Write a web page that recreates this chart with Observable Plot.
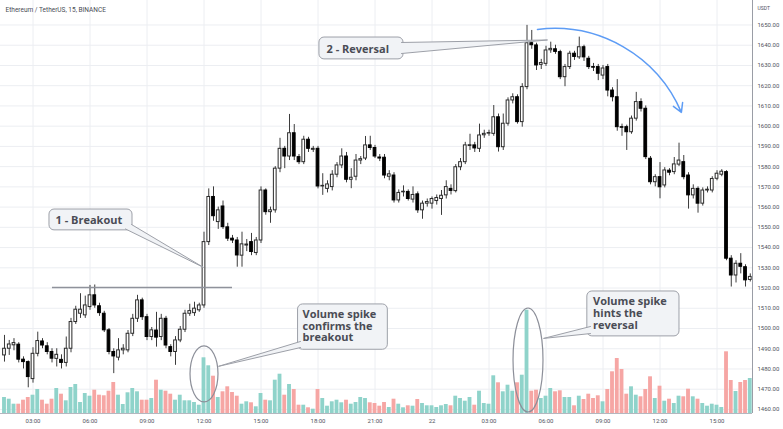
<!DOCTYPE html>
<html>
<head>
<meta charset="utf-8">
<script src="https://cdn.jsdelivr.net/npm/d3@7"></script>
<script src="https://cdn.jsdelivr.net/npm/@observablehq/plot@0.6"></script>
<style>
  html, body { margin: 0; padding: 0; background: #fff; }
  #chart { position: relative; width: 783px; height: 429px; overflow: hidden; background: #fff; }
  #chart > svg { position: absolute; left: 0; top: 0; }
</style>
</head>
<body>
<div id="chart"></div>
<script>
// ---------- DATA (15-minute candles, ETH/USDT) ----------
const chartTitle = "Ethereum / TetherUS, 15, BINANCE";
const unitLabel = "USDT";
const startTime = "2021-09-21T01:30:00Z";

const opens = [
1486.7,1490.0,1491.7,1492.0,1484.6,1483.4,1475.0,1487.5,1493.6,1491.2,
1488.4,1485.0,1484.5,1483.0,1490.0,1503.2,1507.3,1506.5,1510.6,1516.4,
1511.0,1507.3,1499.1,1488.4,1485.6,1489.2,1489.2,1497.4,1504.8,1513.9,
1505.6,1495.8,1499.0,1495.8,1504.8,1490.8,1488.4,1494.1,1499.4,1507.3,
1507.6,1509.0,1511.4,1542.7,1565.0,1552.6,1560.3,1550.0,1544.4,1543.5,
1536.0,1541.0,1542.7,1537.3,1543.5,1568.2,1557.5,1558.4,1579.0,1588.8,
1585.0,1596.5,1584.7,1582.2,1593.3,1588.3,1588.8,1570.2,1569.0,1569.9,
1576.0,1580.6,1585.0,1573.5,1575.0,1583.0,1584.0,1590.5,1589.2,1584.5,
1584.4,1575.0,1575.6,1563.3,1567.3,1567.5,1563.7,1566.3,1558.4,1561.7,
1561.7,1563.0,1564.0,1565.8,1569.0,1567.9,1579.7,1582.2,1590.2,1590.5,
1588.8,1595.5,1596.3,1596.2,1604.4,1589.6,1601.2,1612.7,1614.3,1602.0,
1619.3,1641.0,1639.9,1630.3,1630.8,1637.5,1638.0,1636.6,1624.2,1629.2,
1635.8,1634.0,1639.0,1633.3,1629.2,1629.2,1625.0,1629.2,1617.6,1614.3,
1599.5,1599.5,1597.0,1603.7,1611.9,1608.6,1583.9,1572.3,1574.8,1570.7,
1578.0,1577.3,1581.0,1582.2,1575.6,1565.8,1569.0,1561.7,1568.2,1568.2,
1574.0,1576.0,1577.3,1534.5,1526.2,1532.0,1530.3,1524.0];

const highs = [
1496.6,1494.1,1495.0,1493.0,1486.0,1484.0,1490.5,1498.2,1495.0,1493.0,
1490.0,1490.0,1487.0,1495.8,1505.0,1511.0,1517.2,1516.0,1521.3,1521.5,
1512.5,1508.5,1500.0,1490.0,1495.0,1492.0,1499.0,1507.0,1516.4,1515.0,
1507.0,1500.5,1508.0,1507.0,1506.0,1492.0,1496.0,1501.0,1509.0,1512.0,
1513.0,1512.5,1547.6,1569.0,1570.0,1560.0,1563.0,1552.0,1546.0,1545.0,
1547.6,1544.0,1547.0,1545.0,1570.0,1569.0,1560.0,1580.0,1594.0,1590.0,
1605.8,1600.8,1586.0,1595.0,1594.5,1590.0,1590.0,1576.5,1573.0,1578.0,
1582.0,1588.8,1587.0,1579.0,1586.0,1585.0,1594.9,1595.0,1590.5,1586.0,
1586.0,1578.0,1577.0,1568.5,1570.5,1568.5,1570.0,1567.5,1563.0,1564.0,
1565.0,1566.0,1568.2,1573.0,1571.0,1581.0,1584.0,1592.0,1596.0,1592.0,
1601.0,1598.0,1598.0,1610.2,1606.0,1606.0,1614.0,1616.0,1615.5,1621.0,
1649.8,1647.3,1641.0,1633.0,1639.5,1641.5,1640.0,1637.5,1630.5,1637.0,
1637.0,1644.0,1640.0,1634.5,1631.0,1630.5,1630.0,1630.5,1619.0,1623.0,
1601.0,1600.5,1605.0,1616.7,1613.5,1610.0,1585.0,1576.0,1582.0,1579.5,
1579.0,1584.5,1591.6,1585.5,1577.0,1571.0,1570.0,1569.5,1570.0,1575.0,
1578.0,1578.5,1578.0,1536.0,1533.5,1537.0,1531.5,1527.0];

const lows = [
1483.4,1486.7,1489.0,1483.0,1480.0,1470.7,1473.0,1486.0,1490.0,1487.0,
1483.0,1481.0,1480.0,1481.0,1488.0,1502.0,1505.0,1505.0,1509.0,1510.0,
1506.0,1498.0,1487.0,1477.7,1484.0,1487.0,1488.0,1496.0,1503.0,1504.0,
1494.0,1494.0,1490.8,1494.0,1490.0,1486.0,1481.8,1493.0,1498.0,1506.0,
1506.0,1508.0,1510.0,1541.0,1553.0,1549.0,1549.0,1543.0,1542.0,1530.3,
1530.3,1538.0,1536.0,1536.0,1542.0,1556.0,1552.0,1557.0,1577.0,1579.0,
1583.0,1583.0,1581.0,1581.0,1587.0,1587.0,1569.0,1565.8,1567.0,1568.0,
1574.5,1579.0,1572.0,1569.1,1573.0,1581.0,1583.0,1588.0,1584.0,1582.5,
1574.0,1573.0,1562.0,1562.0,1565.0,1563.0,1562.0,1556.9,1554.0,1560.0,
1559.0,1561.0,1555.9,1564.0,1566.0,1567.0,1578.0,1581.0,1588.0,1587.0,
1587.0,1594.0,1595.0,1595.0,1587.2,1588.0,1600.0,1611.0,1601.0,1599.5,
1618.0,1638.0,1627.5,1628.0,1629.5,1636.0,1635.5,1623.0,1619.5,1628.0,
1632.5,1633.0,1632.0,1628.0,1627.0,1622.5,1623.0,1614.5,1612.0,1597.5,
1595.0,1588.0,1596.0,1602.5,1607.0,1583.5,1571.0,1570.0,1564.1,1569.5,
1575.5,1576.0,1580.0,1573.5,1559.0,1564.0,1557.0,1560.5,1567.0,1567.0,
1573.0,1575.0,1533.5,1520.5,1522.5,1527.0,1520.5,1523.0];

const closes = [
1490.0,1492.1,1492.8,1484.6,1483.4,1476.0,1487.5,1493.8,1491.6,1488.4,
1485.1,1487.0,1483.0,1490.0,1503.2,1509.3,1509.3,1511.4,1516.4,1511.4,
1507.6,1499.1,1488.4,1486.2,1489.2,1490.0,1497.4,1504.8,1513.9,1505.6,
1495.8,1499.1,1495.5,1504.8,1491.6,1488.4,1494.1,1499.4,1507.3,1508.6,
1509.8,1511.4,1542.7,1565.0,1555.5,1558.4,1550.1,1544.4,1543.5,1536.1,
1541.6,1541.5,1537.8,1543.5,1568.2,1557.5,1558.4,1579.0,1588.8,1585.0,
1596.5,1585.0,1582.2,1593.3,1588.8,1588.8,1570.2,1570.5,1571.2,1576.0,
1580.6,1585.0,1573.5,1574.5,1583.0,1583.7,1590.5,1589.2,1585.0,1584.0,
1575.6,1576.2,1563.3,1567.0,1567.6,1564.0,1566.0,1558.4,1561.7,1562.5,
1564.0,1564.5,1565.6,1569.9,1568.0,1579.7,1582.2,1590.5,1590.6,1589.0,
1595.4,1596.2,1596.6,1604.4,1589.6,1601.2,1612.7,1614.3,1602.0,1619.3,
1641.0,1640.0,1630.0,1631.2,1637.4,1638.2,1636.7,1624.2,1629.2,1635.8,
1634.2,1639.0,1634.0,1629.2,1628.9,1625.9,1628.5,1617.6,1614.3,1599.5,
1599.2,1597.0,1603.7,1611.9,1608.6,1584.7,1572.3,1574.8,1569.8,1578.1,
1577.0,1581.1,1583.0,1574.8,1565.8,1569.0,1561.7,1568.2,1568.6,1573.9,
1576.5,1577.5,1534.5,1526.2,1532.0,1530.5,1523.8,1525.5];

// relative traded volume per candle
const volumes = [
16,14.3,9.3,9.3,13.3,16,18.3,24,13.3,9.3,
14.3,25,19.3,12.7,26,29,11,20,17.3,23.3,
18.3,17.7,22.3,31,18.3,9,20.7,25,21.7,13.3,
13.3,15,33.3,23.3,22.3,19.3,13.3,18.3,12.7,12.7,
11,8.3,55.7,47.7,37.3,16,21.7,26.7,21,17.3,
9.3,11.7,10.7,6.7,20,13.3,12.7,33.3,39.3,18.3,
29,24,8.3,8.3,5.7,4.3,24,15,7.3,11.7,
13.3,10.7,13.3,9.3,11,16,15,10.7,10,7.3,
11,6,14.3,9.3,5.7,7.7,7.3,14,10,7.7,
7.7,6,7.7,9,7.7,17.3,15,12.3,16,8.3,
22.3,10,9.3,37.7,30.7,21.7,28.3,22.3,30.7,38.3,
103.3,22.3,23.3,15,17.3,25,21.7,22.7,16,16,
7.7,17.3,14,19.3,15,17.7,11.7,24,41.7,55,
44,19.3,26.7,18.3,16.7,24,36.7,15,27.3,12.3,
14.3,10,17.3,16.7,24.3,16.7,14.3,10,7.3,9.3,
8.3,6,61.7,33,22,31,33,35];

const xTickTimes = ["2021-09-21T03:00Z","2021-09-21T06:00Z","2021-09-21T09:00Z","2021-09-21T12:00Z",
  "2021-09-21T15:00Z","2021-09-21T18:00Z","2021-09-21T21:00Z","2021-09-22T00:00Z",
  "2021-09-22T03:00Z","2021-09-22T06:00Z","2021-09-22T09:00Z","2021-09-22T12:00Z","2021-09-22T15:00Z"];
const xTickLabels = ["03:00","06:00","09:00","12:00","15:00","18:00","21:00","22","03:00","06:00","09:00","12:00","15:00"];
const yTicks = [1460,1470,1480,1490,1500,1510,1520,1530,1540,1550,1560,1570,1580,1590,1600,1610,1620,1630,1640,1650];

// annotations (candle index, price)
const breakoutLevel = [{i1: 10.1, i2: 48, price: 1520.3}];
const calloutBoxes = [
  {id: "breakout", i1: 9.47, i2: 26.95, p1: 1558.8, p2: 1548.5},
  {id: "reversal", i1: 66.3, i2: 84.0, p1: 1643.8, p2: 1633.0},
  {id: "confirms", i1: 61.8, i2: 80.7, p1: 1511.9, p2: 1489.5},
  {id: "hints", i1: 122.7, i2: 142.1, p1: 1518.3, p2: 1496.1}
];
const calloutTails = [
  {id: "breakout", i: 25.47, price: 1549.2}, {id: "breakout", i: 41.89, price: 1530.2}, {id: "breakout", i: 26.74, price: 1551.4},
  {id: "reversal", i: 83.58, price: 1641.35}, {id: "reversal", i: 114.32, price: 1642.6}, {id: "reversal", i: 83.58, price: 1635.9},
  {id: "confirms", i: 62.32, price: 1493.6}, {id: "confirms", i: 45.05, price: 1481.3}, {id: "confirms", i: 62.32, price: 1490.6},
  {id: "hints", i: 123.37, price: 1501.0}, {id: "hints", i: 113.47, price: 1495.1}, {id: "hints", i: 123.37, price: 1497.5}
];
const calloutTexts = [
  {text: "1 - Breakout", i: 10.74, price: 1553.7},
  {text: "2 - Reversal", i: 67.79, price: 1638.2},
  {text: "Volume spike\nconfirms the\nbreakout", i: 62.74, price: 1501.3},
  {text: "Volume spike\nhints the\nreversal", i: 123.9, price: 1507.5}
];
const ellipses = [
  {i1: 39.16, i2: 45.05, p1: 1491.2, p2: 1463.5},
  {i1: 107.16, i2: 113.47, p1: 1509.9, p2: 1458.5}
];
const trendArrow = [{i1: 112.2, p1: 1647.8, i2: 142.5, p2: 1606.8}];

// ---------- BUILD ----------
const BAR = 15 * 60 * 1000;
const t0 = new Date(startTime).getTime();
const tOf = i => new Date(t0 + i * BAR);
const candles = opens.map((o, i) => ({
  t: tOf(i), o, h: highs[i], l: lows[i], c: closes[i], v: volumes[i], up: closes[i] >= o
}));
const upC = candles.filter(d => d.up), downC = candles.filter(d => !d.up);
const xTicks = xTickTimes.map(s => new Date(s));
const labelByTime = new Map(xTicks.map((d, k) => [+d, xTickLabels[k]]));
const xDomain = [tOf(-0.842), tOf(157.47)];
const yDomain = [1458.0, 1662.1];
const W = 783, H = 429;
const M = {marginLeft: 0, marginRight: 31, marginTop: 0, marginBottom: 16};
const bx1 = d => new Date(+d.t - BAR / 2), bx2 = d => new Date(+d.t + BAR / 2);

const base = Plot.plot({
  width: W, height: H, ...M,
  style: {background: "#fff", fontFamily: "Roboto, sans-serif", fontSize: "6px", color: "#50535e"},
  x: {type: "utc", domain: xDomain, ticks: xTicks, tickFormat: d => labelByTime.get(+d) ?? "", tickSize: 0, tickPadding: 5, label: null},
  y: {domain: yDomain, axis: "right", ticks: yTicks, tickFormat: d3.format(".2f"), tickSize: 0, tickPadding: 5, label: null},
  marks: [
    Plot.ruleX(xTicks, {stroke: "#eceef2"}),
    Plot.ruleY(yTicks, {stroke: "#eceef2"}),
    Plot.ruleY([yDomain[0]], {stroke: "#b4b7bf"}),
    Plot.ruleX([xDomain[1]], {stroke: "#9a9da6"}),
    Plot.text([chartTitle], {frameAnchor: "top-left", dx: 5, dy: 7, textAnchor: "start", fontSize: 6.5, fill: "#4a4c55"}),
    Plot.text([unitLabel], {frameAnchor: "top-right", dx: 5, dy: 6, textAnchor: "start", fontSize: 5, fill: "#50535e"})
  ]
});

const vol = Plot.plot({
  width: W, height: H, ...M,
  style: {background: "transparent"},
  x: {type: "utc", domain: xDomain, axis: null},
  y: {domain: [0, 413], axis: null},
  marks: [
    Plot.rectY(upC, {x1: bx1, x2: bx2, y: "v", fill: "#8fd3ca", insetLeft: 0.45, insetRight: 0.45}),
    Plot.rectY(downC, {x1: bx1, x2: bx2, y: "v", fill: "#f6a6a4", insetLeft: 0.45, insetRight: 0.45})
  ]
});

const ellipseMark = e => (index, scales) => {
  const xa = scales.x(tOf(e.i1)), xb = scales.x(tOf(e.i2));
  const ya = scales.y(e.p1), yb = scales.y(e.p2);
  const el = document.createElementNS("http://www.w3.org/2000/svg", "ellipse");
  el.setAttribute("cx", (xa + xb) / 2);
  el.setAttribute("cy", (ya + yb) / 2);
  el.setAttribute("rx", Math.abs(xb - xa) / 2);
  el.setAttribute("ry", Math.abs(yb - ya) / 2);
  el.setAttribute("fill", "none");
  el.setAttribute("stroke", "#8c8f99");
  el.setAttribute("stroke-width", "1.2");
  return el;
};

const topLayer = Plot.plot({
  width: W, height: H, ...M,
  style: {background: "transparent"},
  x: {type: "utc", domain: xDomain, axis: null},
  y: {domain: yDomain, axis: null},
  marks: [
    Plot.ruleX(candles, {x: "t", y1: "l", y2: "h", stroke: "#3c3c3c", strokeWidth: 1}),
    Plot.rect(upC, {x1: bx1, x2: bx2, y1: "o", y2: "c", fill: "#fff", stroke: "#2a2a2a", strokeWidth: 1, insetLeft: 1, insetRight: 1}),
    Plot.rect(downC, {x1: bx1, x2: bx2, y1: "o", y2: "c", fill: "#000", stroke: "#000", strokeWidth: 1, insetLeft: 1, insetRight: 1}),
    Plot.ruleY(breakoutLevel, {y: "price", x1: d => tOf(d.i1), x2: d => tOf(d.i2), stroke: "#8f929b", strokeWidth: 1.5}),
    ...ellipses.map(ellipseMark),
    Plot.rect(calloutBoxes, {x1: d => tOf(d.i1), x2: d => tOf(d.i2), y1: "p1", y2: "p2", fill: "#f1f3f6", stroke: "#9da0a8", strokeWidth: 1, rx: 5}),
    Plot.line(calloutTails, {x: d => tOf(d.i), y: "price", z: "id", stroke: "#9da0a8", strokeWidth: 1, fill: "#f1f3f6", curve: "linear"}),
    Plot.text(calloutTexts, {x: d => tOf(d.i), y: "price", text: "text", textAnchor: "start", lineAnchor: "middle",
      lineHeight: 1.06, fontSize: 11, fontWeight: "bold", fontFamily: "'Open Sans', sans-serif", fill: "#4a4c55"}),
    Plot.arrow(trendArrow, {x1: d => tOf(d.i1), y1: "p1", x2: d => tOf(d.i2), y2: "p2", bend: 37,
      stroke: "#5d9cf5", strokeWidth: 1.5, headLength: 10})
  ]
});

const chart = document.getElementById("chart");
chart.append(base, vol, topLayer);
</script>
</body>
</html>
